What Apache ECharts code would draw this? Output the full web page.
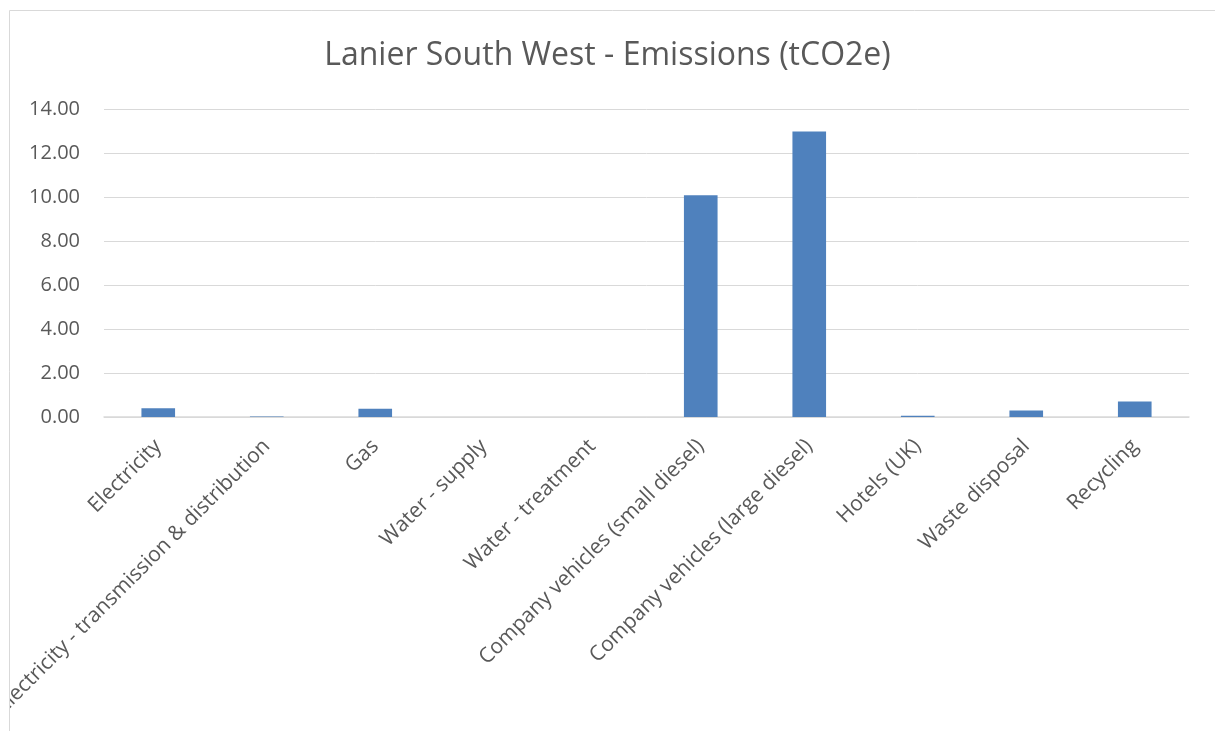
<!DOCTYPE html>
<html>
<head>
<meta charset="utf-8">
<script src="https://cdn.jsdelivr.net/npm/echarts@6/dist/echarts.min.js"></script>
<style>
  html, body { margin: 0; padding: 0; background: #fff; }
  #chart { width: 1215px; height: 731px; }
</style>
</head>
<body>
<div id="chart"></div>
<script>
const categories = [
  'Electricity',
  'Electricity - transmission & distribution',
  'Gas',
  'Water - supply',
  'Water - treatment',
  'Company vehicles (small diesel)',
  'Company vehicles (large diesel)',
  'Hotels (UK)',
  'Waste disposal',
  'Recycling'
]
const emissions = [0.40, 0.02, 0.37, 0, 0, 10.08, 12.98, 0.06, 0.30, 0.70]
const yTicks = { min: 0, max: 14, interval: 2 }

const FONT = '"Open Sans", Lato, sans-serif'

const chart = echarts.init(document.getElementById('chart'))

const option = {
  animation: false,
  textStyle: { fontFamily: FONT },
  title: {
    text: 'Lanier South West - Emissions (tCO2e)',
    left: 'center',
    top: 35,
    textStyle: {
      fontSize: 32,
      fontWeight: 'normal',
      color: '#595959',
      fontFamily: FONT
    }
  },
  graphic: [
    // white strip left of the chart border (Excel clips labels there)
    {
      type: 'rect',
      z: 100,
      shape: { x: 0, y: 0, width: 9, height: 731 },
      style: { fill: '#fff' },
      silent: true
    },
    {
      type: 'rect',
      z: 101,
      shape: { x: 9.5, y: 10.5, width: 1300, height: 800 },
      style: { fill: 'none', stroke: '#d9d9d9', lineWidth: 1 },
      silent: true
    }
  ],
  grid: {
    left: 104,
    right: 26,
    top: 109,
    bottom: 314,
    containLabel: false,
    outerBoundsMode: 'none'
  },
  xAxis: {
    type: 'category',
    data: categories,
    axisLine: { lineStyle: { color: '#d9d9d9', width: 1.5 } },
    axisTick: { show: false },
    axisLabel: {
      rotate: 45,
      interval: 0,
      margin: 26,
      fontSize: 21,
      color: '#595959'
    }
  },
  yAxis: {
    type: 'value',
    min: yTicks.min,
    max: yTicks.max,
    interval: yTicks.interval,
    axisLine: { show: false },
    axisTick: { show: false },
    axisLabel: {
      fontSize: 20,
      color: '#595959',
      margin: 24,
      formatter: (v) => v.toFixed(2)
    },
    splitLine: { lineStyle: { color: '#d9d9d9', width: 1 } }
  },
  series: [
    {
      name: 'Emissions',
      type: 'bar',
      data: emissions,
      barWidth: '31%',
      itemStyle: { color: '#4f81bd' }
    }
  ]
}

chart.setOption(option)
</script>
</body>
</html>
